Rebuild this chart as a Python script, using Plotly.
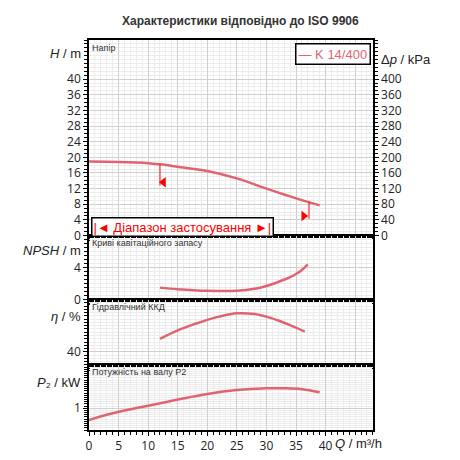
import plotly.graph_objects as go
from plotly.subplots import make_subplots

# Q / m3/h
q_h = [0, 5, 10, 12, 15, 20, 25, 30, 34, 37, 39]
head = [18.9, 18.8, 18.5, 18.2, 17.6, 16.5, 14.6, 12.0, 10.0, 8.6, 7.7]

q_npsh = [12, 15, 20, 25, 28, 30, 32, 34, 35, 36, 37]
npsh = [1.5, 1.3, 1.1, 1.1, 1.35, 1.7, 2.2, 2.8, 3.2, 3.7, 4.4]

q_eta = [12, 15, 18, 20, 22, 25, 28, 30, 32, 34, 36.5]
eta = [50, 56.5, 61.5, 64.5, 67, 69.5, 69, 67, 64, 60.5, 55.5]

q_p2 = [0, 3, 6, 10, 15, 20, 25, 30, 33, 36, 39]
p2 = [0.73, 0.85, 0.95, 1.06, 1.2, 1.33, 1.42, 1.46, 1.46, 1.44, 1.37]

red = "#e06470"
fig = make_subplots(rows=4, cols=1, shared_xaxes=True, vertical_spacing=0,
                    row_heights=[195, 64, 65, 65],
                    specs=[[{"secondary_y": True}], [{}], [{}], [{}]])

curve = dict(color=red, width=2.5, shape="spline")
fig.add_trace(go.Scatter(x=q_h, y=head, mode="lines", line=curve), row=1, col=1)
fig.add_trace(go.Scatter(x=[0], y=[0], mode="lines", opacity=0, hoverinfo="skip"), row=1, col=1, secondary_y=True)
fig.add_trace(go.Scatter(x=q_npsh, y=npsh, mode="lines", line=curve), row=2, col=1)
fig.add_trace(go.Scatter(x=q_eta, y=eta, mode="lines", line=curve), row=3, col=1)
fig.add_trace(go.Scatter(x=q_p2, y=p2, mode="lines", line=curve), row=4, col=1)

# operating range markers
fig.add_trace(go.Scatter(x=[12, 12], y=[18.2, 12.8], mode="lines", line=dict(color="red", width=1)), row=1, col=1)
fig.add_trace(go.Scatter(x=[12.6], y=[13.6], mode="markers",
                         marker=dict(symbol="triangle-left", color="red", size=9)), row=1, col=1)
fig.add_trace(go.Scatter(x=[37.2, 37.2], y=[8.6, 4.3], mode="lines", line=dict(color="red", width=1)), row=1, col=1)
fig.add_trace(go.Scatter(x=[36.3], y=[5.0], mode="markers",
                         marker=dict(symbol="triangle-right", color="red", size=9)), row=1, col=1)

ax = dict(showline=True, linecolor="black", linewidth=1.5, mirror=True, gridcolor="#d0d0d0",
          gridwidth=0.5, ticks="outside", ticklen=4, tickcolor="black", zeroline=False,
          minor=dict(showgrid=True, gridcolor="#ececec", ticks="outside", ticklen=3, tickcolor="black"),
          tickfont=dict(size=12, color="#222"))
for r in range(1, 5):
    fig.update_xaxes(ax, range=[0, 48], dtick=5, minor_dtick=1, row=r, col=1)
fig.update_xaxes(showticklabels=True, tickvals=[0, 5, 10, 15, 20, 25, 30, 35, 40], row=4, col=1)
fig.update_yaxes(ax, range=[0, 50], tickvals=list(range(0, 41, 4)), minor_dtick=1, row=1, col=1)
fig.update_yaxes(ax, range=[0, 500], tickvals=list(range(0, 401, 40)), minor_dtick=10,
                 showgrid=False, minor_showgrid=False, row=1, col=1, secondary_y=True)
fig.update_yaxes(ax, range=[0, 8], tickvals=[0, 4], minor_dtick=0.5, row=2, col=1)
fig.update_yaxes(ax, range=[30, 80], tickvals=[40], minor_dtick=2.5, row=3, col=1)
fig.update_yaxes(ax, range=[0.5, 2.0], tickvals=[1], minor_dtick=0.05, row=4, col=1)

fs = dict(family="Liberation Sans, Arial", size=9, color="#333")
ann = [
    (0.995, "y domain", "Напір"),
    (0.99, "y3 domain", "Криві кавітаційного запасу"),
    (0.99, "y4 domain", "Гідравлічний ККД"),
    (0.99, "y5 domain", "Потужність на валу P2"),
]
for y, yref, t in ann:
    fig.add_annotation(x=0.005, y=y, xref="x domain", yref=yref, text=t, showarrow=False,
                       xanchor="left", yanchor="top", font=fs)

lf = dict(family="Liberation Sans, Arial", size=13, color="#222")
for y, yref, t in [(0.98, "y domain", "<i>H</i> / m"), (0.92, "y3 domain", "<i>NPSH</i> / m"),
                   (0.88, "y4 domain", "<i>η</i> / %"), (0.88, "y5 domain", "<i>P</i>₂ / kW")]:
    fig.add_annotation(x=-0.02, y=y, xref="x domain", yref=yref, text=t, showarrow=False,
                       xanchor="right", yanchor="top", font=lf)
fig.add_annotation(x=1.02, y=0.95, xref="x domain", yref="y domain", text="Δ<i>p</i> / kPa",
                   showarrow=False, xanchor="left", yanchor="top", font=lf)
fig.add_annotation(x=41.2, y=0, xref="x", yref="y5 domain", yshift=-4, text="<i>Q</i> / m³/h",
                   showarrow=False, xanchor="left", yanchor="top", font=lf)
fig.add_annotation(x=47.6, y=49.3, xref="x", yref="y", text="— K 14/400", showarrow=False,
                   xanchor="right", yanchor="top", font=dict(family="Liberation Sans, Arial", size=13, color=red),
                   bordercolor="black", borderwidth=1.5, bgcolor="white", borderpad=2)
fig.add_annotation(x=0.3, y=2.1, xref="x", yref="y",
                   text="|◄ Діапазон застосування ►|", showarrow=False, xanchor="left",
                   font=dict(family="Liberation Sans, Arial", size=13, color="red"),
                   bordercolor="black", borderwidth=1.5, bgcolor="white", borderpad=1)
fig.add_annotation(x=0.5, y=1.0, xref="paper", yref="paper", yshift=28,
                   text="<b>Характеристики відповідно до ISO 9906</b>",
                   showarrow=False, font=dict(family="Liberation Sans, Arial", size=12, color="#333"))

fig.update_layout(width=460, height=460, showlegend=False, plot_bgcolor="white", paper_bgcolor="white",
                  margin=dict(l=81, r=77, t=32, b=38))
fig.write_html("out.html")
